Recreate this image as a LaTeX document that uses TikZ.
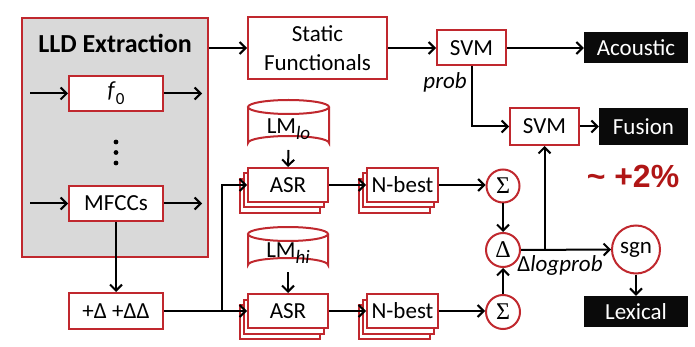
\documentclass[tikz,border=0pt]{standalone}
\usepackage{fontspec}
\setmainfont{Carlito}
\newfontfamily\arialbold[BoldFont={Liberation Sans Bold}]{Liberation Sans}
\newfontfamily\serifgr{Liberation Serif}
\usetikzlibrary{arrows.meta,calc}
\definecolor{bred}{RGB}{192,40,46}
\definecolor{lgray}{RGB}{217,217,217}
\definecolor{pctred}{RGB}{176,22,22}
\tikzset{
  conn/.style={line width=2pt,-{Straight Barb[length=6pt,width=12pt,line width=2pt]}},
  plain/.style={line width=2pt},
  rbox/.style={draw=bred,line width=2pt,fill=white,inner sep=0pt,font=\fontsize{23}{29}\selectfont,align=center},
  bbox/.style={fill=black!96,text=white,inner sep=0pt,font=\fontsize{23}{29}\selectfont},
  rcirc/.style={circle,draw=bred,line width=2pt,fill=white,inner sep=0pt},
  lbl/.style={inner sep=0pt,font=\fontsize{23}{29}\selectfont},
  cyl/.style={draw=bred,line width=2pt,fill=white}
}
\newcommand{\cylshape}[4]{% x1, x2, ytop, ybot
  \pgfmathsetmacro{\cx}{(#1+#2)/2}\pgfmathsetmacro{\rx}{(#2-#1)/2}
  \fill[white] (#1,#3) -- (#1,#4) arc[start angle=180,end angle=360,x radius=\rx,y radius=7] -- (#2,#3) -- cycle;
  \draw[cyl,fill=none] (#1,#3) -- (#1,#4) arc[start angle=180,end angle=360,x radius=\rx,y radius=7] -- (#2,#3);
  \draw[cyl] (\cx,#3) ellipse[x radius=\rx,y radius=7];
}
\begin{document}
\begin{tikzpicture}[x=1pt,y=-1pt]
\useasboundingbox (0,0) rectangle (695,347);
% LLD extraction
\node[draw=bred,line width=2pt,fill=lgray,minimum width=186pt,minimum height=239pt,inner sep=0pt] (lld) at (115,137.5) {};
\node[lbl,font=\fontsize{26}{30}\selectfont\bfseries] (lldt) at (115,43) {LLD Extraction};
\node[rbox,minimum width=94pt,minimum height=35pt] (f0) at (116,93.5) {\textit{f}{\raisebox{-0.3em}{\fontsize{17}{17}\selectfont 0}}};
\node[rbox,minimum width=94pt,minimum height=35pt] (mfcc) at (116,203.5) {MFCCs};
\coordinate (f0in) at (30,93.5);
\coordinate (f0out) at (202,93.5);
\coordinate (mfin) at (30,203.5);
\coordinate (mfout) at (202,203.5);
\draw[conn] (f0in) -- (f0.west);
\draw[conn] (f0.east) -- (f0out);
\draw[conn] (mfin) -- (mfcc.west);
\draw[conn] (mfcc.east) -- (mfout);
\fill (116,142) circle (2.4) (116,152.5) circle (2.4) (116,163) circle (2.4);
\node[rbox,minimum width=94pt,minimum height=36pt] (dbox) at (116,311) {+Δ +ΔΔ};
\draw[conn] (mfcc.south) -- (dbox.north);
% static functionals and SVMs
\node[rbox,minimum width=139pt,minimum height=62pt] (sf) at (317.5,48) {Static\\Functionals};
\node[rbox,minimum width=69pt,minimum height=35pt] (svm1) at (471.5,48) {SVM};
\node[bbox,minimum width=104pt,minimum height=31pt] (ac) at (636,48) {Acoustic};
\node[rbox,minimum width=69pt,minimum height=37pt] (svm2) at (544.5,126.5) {SVM};
\node[bbox,minimum width=89pt,minimum height=37pt] (fu) at (643.5,126.5) {Fusion};
\draw[conn] (sf.west -| lld.east) -- (sf.west);
\draw[conn] (sf.east) -- (svm1.west);
\draw[conn] (svm1.east) -- (ac.west);
\draw[conn] (svm1.south) |- (svm2.west);
\draw[conn] (svm2.east) -- (fu.west);
\node[lbl,font=\fontsize{23}{29}\selectfont\itshape,anchor=east] (prob) at (467,82) {prob};
\node[inner sep=0pt,text=pctred,font=\fontsize{32}{36}\selectfont\arialbold\bfseries] (pct) at (633,176) {\textasciitilde{} +2\%};
% LM cylinders
\cylshape{248}{329}{107}{143}
\node[lbl] (lmlo) at (288.5,129) {LM{\raisebox{-0.28em}{\fontsize{19}{19}\selectfont\itshape lo}}};
\coordinate (lmlob) at (288.5,150);
\cylshape{248}{328}{234}{265}
\node[lbl] (lmhi) at (288,253) {LM{\raisebox{-0.28em}{\fontsize{19}{19}\selectfont\itshape hi}}};
\coordinate (lmhib) at (288,272);
% stacked ASR / N-best
\foreach \n/\cx/\cy/\w in {asra/288/185/80, asrb/288/311/80, nba/402.5/185/71, nbb/402.5/311/71}{
  \node[rbox,minimum width=\w pt,minimum height=34pt] (\n2) at (\cx-8,\cy+11) {};
  \node[rbox,minimum width=\w pt,minimum height=34pt] (\n1) at (\cx-4,\cy+5.5) {};
}
\node[rbox,minimum width=80pt,minimum height=34pt] (asr1) at (288,185) {ASR};
\node[rbox,minimum width=80pt,minimum height=34pt] (asr2) at (288,311) {ASR};
\node[rbox,minimum width=71pt,minimum height=34pt] (nb1) at (402.5,185) {N-best};
\node[rbox,minimum width=71pt,minimum height=34pt] (nb2) at (402.5,311) {N-best};
\draw[conn] (lmlob) -- (asr1.north);
\draw[conn] (lmhib) -- (asr2.north);
\coordinate (j1) at (222,311);
\draw[plain] (dbox.east) -- (j1);
\draw[conn] (j1) |- (asr1.west);
\draw[conn] (j1) -- (asr2.west);
\draw[conn] (asr1.east) -- (nb1.west);
\draw[conn] (asr2.east) -- (nb2.west);
% sums, delta, sgn
\node[rcirc,minimum size=33pt,font=\fontsize{24}{24}\selectfont\serifgr] (s1) at (503,186) {Σ};
\node[rcirc,minimum size=34pt,font=\fontsize{24}{24}\selectfont\serifgr] (dl) at (503,250) {Δ};
\node[rcirc,minimum size=34pt,font=\fontsize{24}{24}\selectfont\serifgr] (s2) at (503,312) {Σ};
\node[rcirc,minimum size=48pt,font=\fontsize{23}{29}\selectfont] (sgn) at (636,249.5) {sgn};
\node[bbox,minimum width=104pt,minimum height=31pt] (lex) at (636,311.5) {Lexical};
\draw[conn] (nb1.east) -- (s1.west |- nb1.east);
\draw[conn] (nb2.east) -- (s2.west |- nb2.east);
\draw[conn] (s1.south) -- (dl.north);
\draw[conn] (s2.north) -- (dl.south);
\draw[conn] (dl.east) -- (sgn.west);
\coordinate (j2) at (544.5,250);
\draw[conn] (j2) -- (svm2.south);
\draw[conn] (sgn.south) -- (lex.north);
\node[lbl] (dlp) at (560,265) {Δ\textit{logprob}};
\end{tikzpicture}
\end{document}
